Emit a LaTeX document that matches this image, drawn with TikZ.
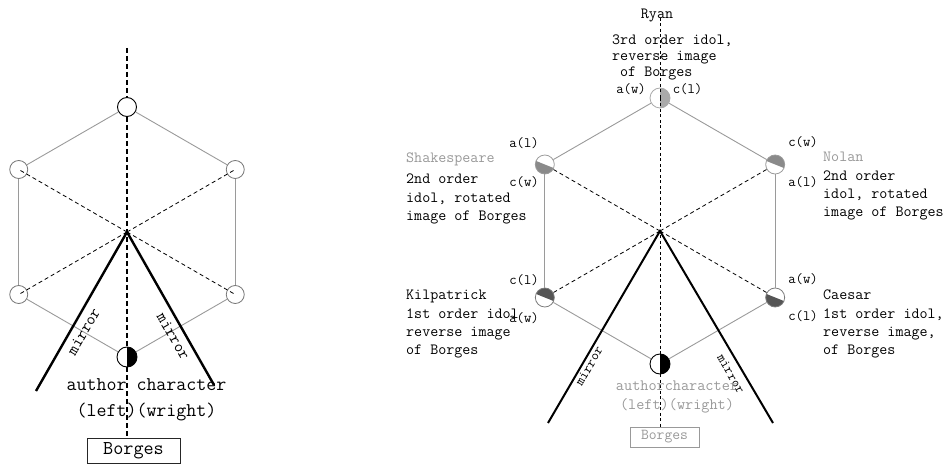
\documentclass[tikz,border=0pt]{standalone}
\usepackage{fontspec}
\usetikzlibrary{calc}
\definecolor{edgegray}{HTML}{9A9A9A}
\definecolor{ringgray}{HTML}{777777}
\definecolor{txtgray}{HTML}{999999}
\definecolor{ryanfill}{HTML}{AAAAAA}
\definecolor{midfill}{HTML}{8A8A8A}
\definecolor{darkfill}{HTML}{555555}
\begin{document}
\begin{tikzpicture}[x=1pt,y=1pt,
  every node/.style={font=\ttfamily},
  edge/.style={draw=edgegray, line width=0.9pt},
  spoke/.style={dash pattern=on 4pt off 3pt, line width=0.8pt},
  vlineL/.style={line width=2.4pt, dash pattern=on 5pt off 3pt},
  vlineR/.style={line width=1pt, dash pattern=on 3pt off 2.5pt},
  mirrL/.style={line width=2.4pt},
  mirrR/.style={line width=2pt},
  vtx/.style={circle, inner sep=0pt, minimum size=#1},
  halffill/.style n args={2}{path picture={
    \fill[#1] ($(path picture bounding box.center)+(#2:20pt)$)
      -- ($(path picture bounding box.center)+(#2+180:20pt)$)
      -- ($(path picture bounding box.center)+(#2-90:40pt)$) -- cycle;}},
  bigtxt/.style={font=\ttfamily\fontsize{19.4}{26}\selectfont},
  blk/.style={font=\ttfamily\fontsize{15.6}{18.3}\selectfont, align=left, anchor=north west, inner sep=0pt},
  lbl/.style={font=\ttfamily\fontsize{14.3}{16}\selectfont, inner sep=0pt}
]
\useasboundingbox (0,0) rectangle (945,464);

% ---------------- left diagram ----------------
\coordinate (hL) at (127,232);
\node[vtx=19pt, draw, line width=0.9pt, fill=white] (tL) at ($(hL)+(90:125pt)$) {};
\node[vtx=18pt, draw=ringgray, line width=0.8pt] (ulL) at ($(hL)+(150:125pt)$) {};
\node[vtx=18pt, draw=ringgray, line width=0.8pt] (llL) at ($(hL)+(210:125pt)$) {};
\node[vtx=18pt, draw=ringgray, line width=0.8pt] (urL) at ($(hL)+(30:125pt)$) {};
\node[vtx=18pt, draw=ringgray, line width=0.8pt] (lrL) at ($(hL)+(330:125pt)$) {};
\node[vtx=20pt, draw, line width=0.9pt, fill=white, halffill={black}{90}] (bL) at ($(hL)+(270:125pt)$) {};
\node[draw=black!85, line width=0.8pt, minimum width=93pt, minimum height=25pt, inner sep=0pt,
      font=\ttfamily\fontsize{19.6}{22}\selectfont] (BL) at (133.5,13.5) {Borges};
\coordinate (vtopL) at (127,416);
\coordinate (mlL) at (36,73);
\coordinate (mrL) at (214,79);

\draw[edge] (tL) -- (ulL);
\draw[edge] (tL) -- (urL);
\draw[edge] (ulL) -- (llL);
\draw[edge] (urL) -- (lrL);
\draw[edge] (llL) -- (bL);
\draw[edge] (lrL) -- (bL);
\foreach \v in {ulL,urL,llL,lrL} \draw[spoke] (hL) -- (\v.center);
\draw[vlineL] (vtopL) -- (tL.north);
\draw[vlineL] (tL.south) -- (bL.north);
\draw[vlineL] (bL.south) -- (bL.south |- BL.north);
\draw[mirrL] (mlL) -- (hL) -- (mrL);
\node[font=\ttfamily\fontsize{16.5}{18}\selectfont, rotate=60, inner sep=0pt] (mtL1) at (83.6,132.5) {mirror};
\node[font=\ttfamily\fontsize{16.5}{18}\selectfont, rotate=-60, inner sep=0pt] (mtL2) at (173.4,127.5) {mirror};
\node[bigtxt, align=center, inner sep=0pt] (acL) at (146.5,64) {author character\\(left)(wright)};

% ---------------- right diagram ----------------
\coordinate (hR) at (660,233);
\node[vtx=20pt, draw=ryanfill, line width=0.8pt, fill=white, halffill={ryanfill}{90}] (tR) at ($(hR)+(90:133pt)$) {};
\coordinate (vtopR) at (660,446);
\node[draw=txtgray, text=txtgray, line width=0.8pt, minimum width=69pt, minimum height=20pt, inner sep=0pt,
      font=\ttfamily\fontsize{15.2}{17}\selectfont] (BR) at (664.5,27) {Borges};
\coordinate (mlR) at (548,41);
\coordinate (mrR) at (773,41);

\foreach \a/\n in {150/ulR,30/urR,210/llR,330/lrR} \coordinate (p\n) at ($(hR)+(\a:133pt)$);
\foreach \v in {pulR,purR,pllR,plrR} \draw[spoke] (hR) -- (\v);
\draw[vlineR] (vtopR) -- (tR.center);
\node[vtx=19pt, draw=edgegray, line width=0.8pt, fill=white, halffill={midfill}{-22}] (ulR) at (pulR) {};
\node[vtx=19pt, draw=edgegray, line width=0.8pt, fill=white, halffill={midfill}{158}] (urR) at (purR) {};
\node[vtx=19pt, draw=edgegray!80!black, line width=0.8pt, fill=white, halffill={darkfill}{158}] (llR) at (pllR) {};
\node[vtx=19pt, draw=edgegray!80!black, line width=0.8pt, fill=white, halffill={darkfill}{-22}] (lrR) at (plrR) {};
\node[vtx=20pt, draw, line width=0.9pt, fill=white, halffill={black}{90}] (bR) at ($(hR)+(270:133pt)$) {};
\draw[vlineR] (tR.center) -- (bR.north);
\draw[vlineR] (bR.south) -- (bR.south |- BR.north);
\draw[edge] (tR) -- (ulR);
\draw[edge] (tR) -- (urR);
\draw[edge] (ulR) -- (llR);
\draw[edge] (urR) -- (lrR);
\draw[edge] (llR) -- (bR);
\draw[edge] (lrR) -- (bR);
\draw[mirrR] (mlR) -- (hR) -- (mrR);
\node[font=\ttfamily\fontsize{13.7}{15}\selectfont, rotate=60, inner sep=0pt] (mtR1) at (589,98) {mirror};
\node[font=\ttfamily\fontsize{13.7}{15}\selectfont, rotate=-60, inner sep=0pt] (mtR2) at (731,90) {mirror};
\node[font=\ttfamily\fontsize{15.8}{19}\selectfont, text=txtgray, align=center, inner sep=0pt] (acR) at (677,67.5) {authorcharacter\\(left)(wright)};

% labels
\node[lbl] (l1) at (631,375) {a(w)};
\node[lbl] (l2) at (687.5,375) {c(l)};
\node[lbl] (l3) at (524,321) {a(l)};
\node[lbl] (l4) at (524,282) {c(w)};
\node[lbl] (l5) at (524,184) {c(l)};
\node[lbl] (l6) at (524,146) {a(w)};
\node[lbl] (l7) at (803,322) {c(w)};
\node[lbl] (l8) at (803,282) {a(l)};
\node[lbl] (l9) at (803,185) {a(w)};
\node[lbl] (l10) at (803,148) {c(l)};

% text blocks
\node[font=\ttfamily\fontsize{15.6}{16}\selectfont, inner sep=0pt] (ryan) at (657,448) {Ryan};
\node[blk, font=\ttfamily\fontsize{15.6}{16}\selectfont] (ryanT) at (612,429) {3rd order idol,\\reverse image\\\hspace*{8pt}of Borges};
\node[blk, text=txtgray] (shakN) at (406,311) {Shakespeare};
\node[blk] (shakT) at (406,290) {2nd order\\idol, rotated\\image of Borges};
\node[blk] (kilT) at (406,174) {Kilpatrick\\1st order idol\\reverse image\\of Borges};
\node[blk] (nolT) at (823,312) {{\color{txtgray}Nolan}\\2nd order\\idol, rotated\\image of Borges};
\node[blk] (caeT) at (823,174) {Caesar\\1st order idol,\\reverse image,\\of Borges};
\end{tikzpicture}
\end{document}
